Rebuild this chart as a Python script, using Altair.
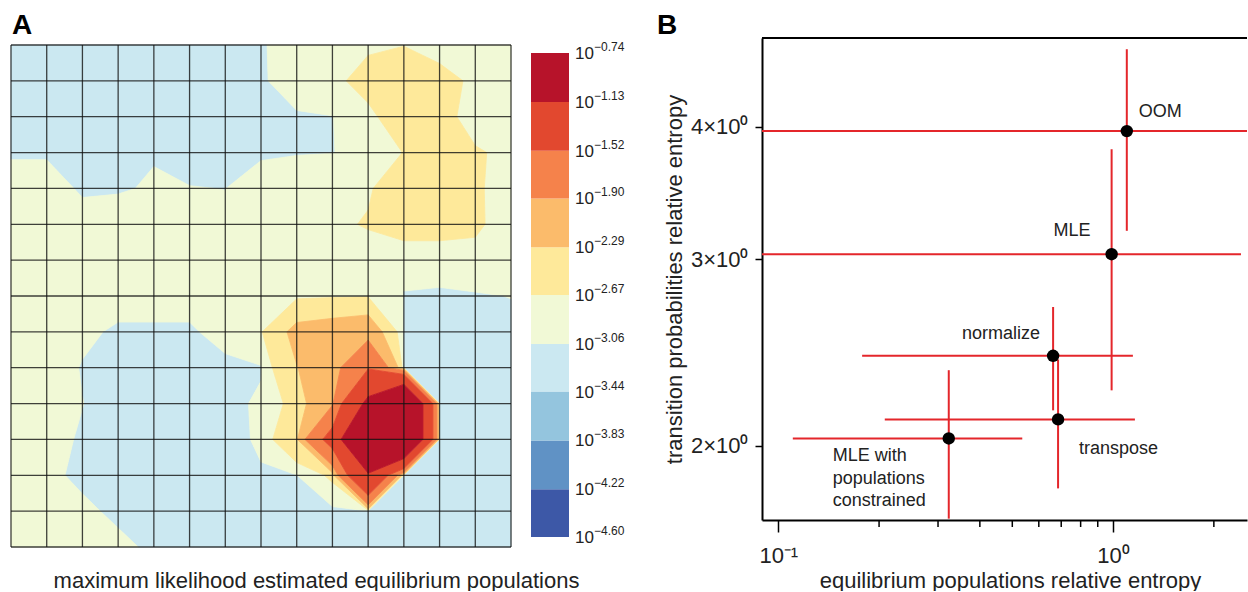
import altair as alt
import numpy as np
import pandas as pd

FONT = "Liberation Sans"
INK = "#222222"
BAR_RED = "#e4262b"

# ---------------- panel A data ----------------
# log10 of the estimated equilibrium populations at the 15 x 15 grid nodes (row 0 = top)
pop_log10 = [
    [-3.25, -3.25, -3.25, -3.25, -3.25, -3.25, -3.25, -3.12, -2.85, -2.85, -2.75, -2.68, -2.85, -2.90, -2.95],
    [-3.25, -3.25, -3.25, -3.25, -3.25, -3.25, -3.25, -3.12, -2.88, -2.80, -2.52, -2.45, -2.55, -2.75, -2.90],
    [-3.25, -3.25, -3.25, -3.25, -3.25, -3.25, -3.25, -3.25, -3.11, -3.07, -2.80, -2.44, -2.50, -2.98, -2.95],
    [-3.10, -3.10, -3.25, -3.25, -3.12, -3.20, -3.25, -3.12, -3.08, -3.065, -3.00, -2.66, -2.45, -2.62, -2.80],
    [-2.93, -2.93, -3.11, -3.15, -2.98, -3.05, -3.065, -2.90, -2.88, -2.85, -2.72, -2.45, -2.40, -2.60, -2.99],
    [-2.90, -2.90, -2.94, -2.76, -2.85, -2.90, -2.97, -2.90, -2.85, -2.75, -2.64, -2.50, -2.50, -2.60, -2.94],
    [-2.90, -2.88, -2.88, -2.85, -2.85, -2.85, -2.88, -2.85, -2.80, -2.80, -2.90, -3.03, -3.03, -2.83, -2.90],
    [-2.90, -2.90, -2.90, -2.95, -2.95, -2.95, -2.90, -2.85, -2.75, -2.72, -2.70, -3.065, -3.07, -3.10, -3.05],
    [-2.90, -2.90, -3.00, -3.11, -3.11, -3.11, -2.95, -2.70, -2.20, -2.15, -2.10, -3.10, -3.20, -3.20, -3.20],
    [-2.90, -2.92, -3.08, -3.20, -3.25, -3.25, -3.15, -3.10, -2.30, -2.10, -1.55, -3.10, -3.20, -3.20, -3.20],
    [-2.90, -2.95, -3.055, -3.20, -3.25, -3.25, -3.20, -3.00, -2.55, -1.95, -1.07, -0.80, -3.15, -3.20, -3.20],
    [-2.90, -2.98, -3.09, -3.20, -3.25, -3.25, -3.25, -3.00, -2.35, -1.40, -0.74, -0.80, -3.15, -3.20, -3.20],
    [-2.85, -2.95, -3.20, -3.25, -3.25, -3.25, -3.25, -3.10, -3.07, -2.60, -1.17, -3.10, -3.20, -3.20, -3.20],
    [-2.85, -2.88, -2.96, -3.19, -3.25, -3.25, -3.25, -3.20, -3.20, -3.20, -3.15, -3.20, -3.20, -3.20, -3.20],
    [-2.85, -2.85, -2.90, -2.95, -3.17, -3.25, -3.25, -3.25, -3.25, -3.25, -3.20, -3.20, -3.20, -3.20, -3.20],
]

# colour-bar boundaries (log10) and band colours, lowest band first
cb_levels = [-4.60, -4.22, -3.83, -3.44, -3.06, -2.67, -2.29, -1.90, -1.52, -1.13, -0.74]
cb_colors = ["#3d58a7", "#6092c5", "#94c5de", "#cbe8f1", "#f1f9d6",
             "#fee99a", "#fbbb6b", "#f5824b", "#e2482f", "#b7132a"]

# ---------------- panel B data ----------------
methods = ["OOM", "MLE", "normalize", "transpose", "MLE with\npopulations\nconstrained"]
pop_entropy = [1.099, 0.990, 0.662, 0.685, 0.323]
pop_entropy_err = [1.55, 1.42, 0.484, 0.477, 0.2125]
trans_entropy = [3.963, 3.033, 2.432, 2.118, 2.032]
trans_entropy_err = [0.772, 0.777, 0.272, 0.295, 0.325]
major_x_ticks = [0.1, 1.0]
minor_x_ticks = [0.2, 0.3, 0.4, 0.5, 0.6, 0.7, 0.8, 0.9, 2.0]
y_ticks = [2, 3, 4]


# ---- filled contour bands: marching squares on the linear populations ----
def contour_bands(z_log, levels, colors):
    z = 10.0 ** np.asarray(z_log)
    lv = 10.0 ** np.asarray(levels)
    n_rows, n_cols = z.shape
    recs = []
    pid = 0
    for j in range(n_rows - 1):
        for i in range(n_cols - 1):
            corners = [(i, j), (i + 1, j), (i + 1, j + 1), (i, j + 1)]
            vals = [z[j, i], z[j, i + 1], z[j + 1, i + 1], z[j + 1, i]]
            for b in range(len(lv) - 1):
                lo, hi = lv[b], lv[b + 1]
                pts = []
                for k in range(4):
                    (xa, ya), a = corners[k], vals[k]
                    (xb, yb), c = corners[(k + 1) % 4], vals[(k + 1) % 4]
                    if lo <= a <= hi:
                        pts.append((xa, ya))
                    cuts = []
                    for t in (lo, hi):
                        if (a - t) * (c - t) < 0:
                            f = (t - a) / (c - a)
                            cuts.append((f, xa + f * (xb - xa), ya + f * (yb - ya)))
                    for _, x, y in sorted(cuts):
                        pts.append((x, y))
                if len(pts) >= 3:
                    pts.append(pts[0])
                    for k, (x, y) in enumerate(pts):
                        recs.append({"pid": pid, "k": k, "x": x, "y": y, "color": colors[b]})
                    pid += 1
    return pd.DataFrame(recs)


poly_df = contour_bands(pop_log10, cb_levels, cb_colors)
n_nodes = len(pop_log10)
span = n_nodes - 1
grid_df = pd.DataFrame(
    [{"x": i, "y": 0, "x2": i, "y2": span} for i in range(n_nodes)]
    + [{"x": 0, "y": j, "x2": span, "y2": j} for j in range(n_nodes)]
)

# ---------------- panel A chart ----------------
xA = alt.Scale(domain=[0, span], range=[0, 500], nice=False, zero=False)
yA = alt.Scale(domain=[0, span], range=[7, 509], nice=False, zero=False)
axA = alt.Axis(title="maximum likelihood estimated equilibrium populations", labels=False,
               ticks=False, domain=False, grid=False, titleFontSize=22, titleFont=FONT,
               titleFontWeight="normal", titleColor=INK, titleX=305, titleY=40,
               titleAlign="center", titleBaseline="alphabetic")

contours = alt.Chart(poly_df).mark_line(strokeWidth=0.8, strokeJoin="round").encode(
    x=alt.X("x:Q", scale=xA, axis=axA),
    y=alt.Y("y:Q", scale=yA, axis=None),
    detail="pid:N",
    order="k:Q",
    fill=alt.Fill("color:N", scale=None),
    stroke=alt.Stroke("color:N", scale=None),
)

grid = alt.Chart(grid_df).mark_rule(color="#111111", strokeWidth=1.3, opacity=0.8).encode(
    x=alt.X("x:Q", scale=xA, axis=axA),
    x2="x2:Q",
    y=alt.Y("y:Q", scale=yA, axis=None),
    y2="y2:Q",
)

cb_scale = alt.Scale(domain=[cb_levels[0], cb_levels[-1]], range=[499, 15], nice=False, zero=False)
cb_df = pd.DataFrame({"lo": cb_levels[:-1], "hi": cb_levels[1:], "color": cb_colors})
lab_df = pd.DataFrame({"lvl": cb_levels})

cb_bar = alt.Chart(cb_df).mark_rect().encode(
    x=alt.value(520), x2=alt.value(558),
    y=alt.Y("lo:Q", scale=cb_scale, axis=None), y2="hi:Q",
    fill=alt.Fill("color:N", scale=None),
)
cb_base = alt.Chart(lab_df).mark_text(text="10", font=FONT, fontSize=17, color=INK,
                                      align="left", baseline="middle", dy=1).encode(
    x=alt.value(564), y=alt.Y("lvl:Q", scale=cb_scale, axis=None))
cb_exp = alt.Chart(lab_df).transform_calculate(
    e="replace(format(datum.lvl, '.2f'), '-', '\u2212')"
).mark_text(font=FONT, fontSize=12, color=INK, align="left", baseline="middle", dy=-6).encode(
    x=alt.value(583), y=alt.Y("lvl:Q", scale=cb_scale, axis=None), text="e:N")

tag_A = alt.Chart(pd.DataFrame({"t": ["A"]})).mark_text(
    font=FONT, fontSize=28, fontWeight="bold", color="black", align="left", baseline="alphabetic"
).encode(x=alt.value(1), y=alt.value(-4), text="t:N")

panel_a = alt.layer(contours, grid, cb_bar, cb_base, cb_exp, tag_A).resolve_scale(
    y="independent").properties(width=629, height=509)

# ---------------- panel B chart ----------------
df_b = pd.DataFrame({
    "idx": list(range(len(methods))),
    "method": methods,
    "x": pop_entropy, "xerr": pop_entropy_err,
    "y": trans_entropy, "yerr": trans_entropy_err,
})

xB = alt.Scale(type="log", domain=[0.0894, 2.512], nice=False)
yB = alt.Scale(type="log", domain=[1.702, 4.852], nice=False)
axXB = alt.Axis(values=major_x_ticks, labelExpr="datum.value < 0.5 ? '10\u207b\u00b9' : '10\u2070'",
                tickSize=12, tickWidth=1.5, tickColor="black", domainColor="black", domainWidth=2,
                labelFont=FONT, labelFontSize=22, labelColor=INK, labelPadding=13,
                labelFlush=False, labelOverlap=False, grid=False,
                title="equilibrium populations relative entropy", titleFont=FONT, titleFontSize=22,
                titleFontWeight="normal", titleColor=INK, titleX=248, titleY=67,
                titleAlign="center", titleBaseline="alphabetic")
axYB = alt.Axis(values=y_ticks, labelExpr="datum.value + '\u00d710\u2070'",
                tickSize=7, tickWidth=1.5, tickColor="black", domainColor="black", domainWidth=2,
                labelFont=FONT, labelFontSize=22, labelColor=INK, labelPadding=7,
                labelFlush=False, labelOverlap=False, grid=False,
                title="transition probabilities relative entropy", titleFont=FONT, titleFontSize=22,
                titleFontWeight="normal", titleColor=INK, titleX=-81, titleY=241, titleAngle=270,
                titleAlign="center", titleBaseline="alphabetic")

base_b = alt.Chart(df_b)

h_bars = base_b.transform_calculate(
    xlo="max(datum.x - datum.xerr, 0.01)", xhi="datum.x + datum.xerr"
).mark_rule(color=BAR_RED, strokeWidth=2, clip=True).encode(
    x=alt.X("xlo:Q", scale=xB, axis=axXB), x2="xhi:Q",
    y=alt.Y("y:Q", scale=yB, axis=axYB))

v_bars = base_b.transform_calculate(
    ylo="max(datum.y - datum.yerr, 0.01)", yhi="datum.y + datum.yerr"
).mark_rule(color=BAR_RED, strokeWidth=2, clip=True).encode(
    x=alt.X("x:Q", scale=xB, axis=axXB),
    y=alt.Y("ylo:Q", scale=yB, axis=axYB), y2="yhi:Q")

dots = base_b.mark_circle(size=155, color="black", opacity=1).encode(
    x=alt.X("x:Q", scale=xB, axis=axXB),
    y=alt.Y("y:Q", scale=yB, axis=axYB))

label_style = [
    dict(dx=12, dy=-14, align="left"),
    dict(dx=-21, dy=-18, align="right"),
    dict(dx=-13, dy=-17, align="right"),
    dict(dx=21, dy=35, align="left"),
    dict(dx=-116, dy=23, align="left"),
]
labels = [
    base_b.transform_filter(alt.datum.idx == k).mark_text(
        font=FONT, fontSize=18, color=INK, baseline="alphabetic", lineBreak="\n",
        lineHeight=22.5, **st).encode(
        x=alt.X("x:Q", scale=xB, axis=axXB),
        y=alt.Y("y:Q", scale=yB, axis=axYB),
        text="method:N")
    for k, st in enumerate(label_style)
]

minor = alt.Chart(pd.DataFrame({"v": minor_x_ticks})).mark_rule(
    color="black", strokeWidth=1.5).encode(
    x=alt.X("v:Q", scale=xB, axis=axXB), y=alt.value(482), y2=alt.value(489))

top_frame = alt.Chart(pd.DataFrame({"t": [0]})).mark_rule(color="black", strokeWidth=2).encode(
    x=alt.value(0), x2=alt.value(485), y=alt.value(0))

tag_B = alt.Chart(pd.DataFrame({"t": ["B"]})).mark_text(
    font=FONT, fontSize=28, fontWeight="bold", color="black", align="left", baseline="alphabetic"
).encode(x=alt.value(-105), y=alt.value(-4), text="t:N")

panel_b = alt.layer(h_bars, v_bars, dots, *labels, minor, top_frame, tag_B).properties(
    width=485, height=482)

chart = alt.hconcat(panel_a, panel_b, spacing=122, bounds="flush").properties(
    padding={"left": 10, "top": 12, "right": 0, "bottom": 0},
    background="white",
).configure_view(stroke=None)

chart.save("out.html", embed_options={"renderer": "svg", "actions": False})
